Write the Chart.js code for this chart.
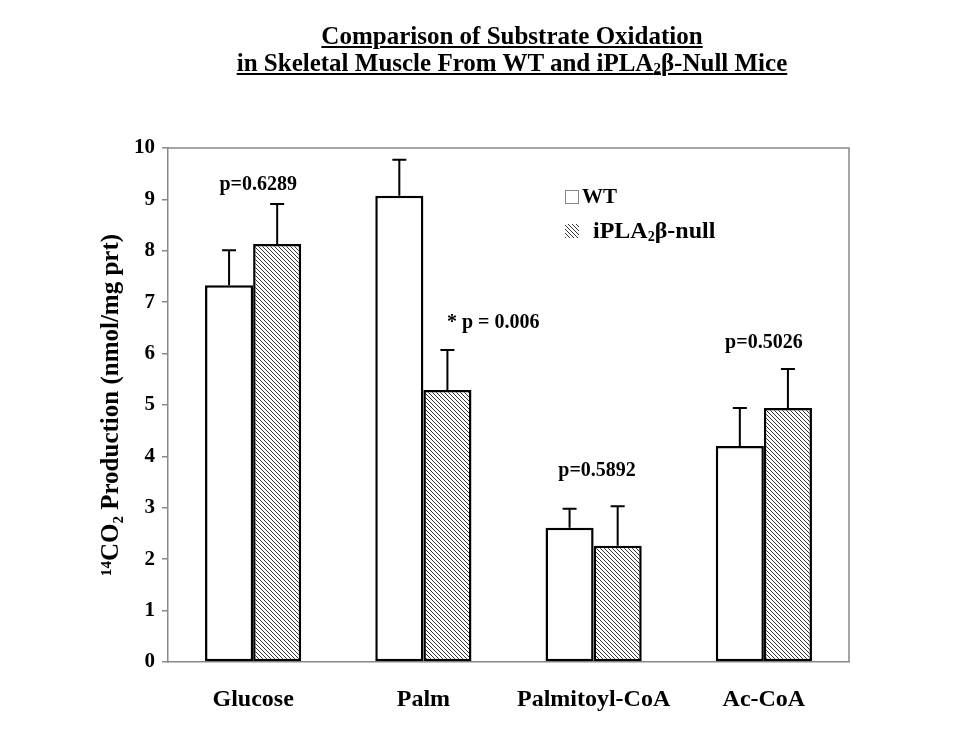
<!DOCTYPE html>
<html>
<head>
<meta charset="utf-8">
<script src="https://cdn.jsdelivr.net/npm/chart.js@4.4.1/dist/chart.umd.min.js"></script>
<style>
  html, body { margin: 0; padding: 0; background: #fff; }
  #wrap { position: relative; width: 959px; height: 742px; }
  #title {
    position: absolute; left: 162px; top: 22px; width: 700px;
    text-align: center; font: bold 25px "Liberation Serif", "Times New Roman", serif;
    line-height: 27px; text-decoration: underline; color: #000;
  }
  #title sub { font-size: 15px; vertical-align: -2px; line-height: 0; }
</style>
</head>
<body>
<div id="wrap">
  <canvas id="myChart" width="959" height="742"></canvas>
  <div id="title">Comparison of Substrate Oxidation<br>in Skeletal Muscle From WT and iPLA<sub>2</sub>β-Null Mice</div>
</div>
<script>
// data
var categories = ["Glucose", "Palm", "Palmitoyl-CoA", "Ac-CoA"];
var wtValues = [7.33, 9.07, 2.61, 4.20];
var wtErrors = [0.68, 0.70, 0.37, 0.74];
var nullValues = [8.13, 5.29, 2.26, 4.94];
var nullErrors = [0.78, 0.78, 0.77, 0.76];
var yTicks = [0, 1, 2, 3, 4, 5, 6, 7, 8, 9, 10];
// p-value labels: text, value on y axis, shift in category widths
var pLabels = ["p=0.6289", "* p = 0.006", "p=0.5892", "p=0.5026"];
var pLabelY = [9.28, 6.6, 3.72, 6.2];
var pLabelShift = [0.03, 0.41, 0.02, 0.0];

var FONT = '"Liberation Serif", "Times New Roman", serif';

// hatch pattern "\\\\"
function makeHatch() {
    var c = document.createElement("canvas");
    var s = 4;
    c.width = s; c.height = s;
    var g = c.getContext("2d");
    g.fillStyle = "#fff";
    g.fillRect(0, 0, s, s);
    g.strokeStyle = "#333";
    g.lineWidth = 1;
    g.beginPath();
    g.moveTo(-1, -1); g.lineTo(s + 1, s + 1);
    g.moveTo(-1, s - 1); g.lineTo(1, s + 1);
    g.moveTo(s - 1, -1); g.lineTo(s + 1, 1);
    g.stroke();
    return g.createPattern(c, "repeat");
}
var hatch = makeHatch();

// error bars, frame, p labels, legend
var extras = {
    id: "extras",
    afterDatasetsDraw: function(chart) {
        var ctx = chart.ctx;
        var y = chart.scales.y;
        var area = chart.chartArea;
        var errs = [wtErrors, nullErrors];
        ctx.save();
        ctx.strokeStyle = "#000";
        ctx.lineWidth = 2;
        chart.data.datasets.forEach(function(ds, di) {
            var meta = chart.getDatasetMeta(di);
            meta.data.forEach(function(bar, i) {
                var top = y.getPixelForValue(ds.data[i] + errs[di][i]);
                ctx.beginPath();
                ctx.moveTo(bar.x, bar.y);
                ctx.lineTo(bar.x, top);
                ctx.moveTo(bar.x - 7, top);
                ctx.lineTo(bar.x + 7, top);
                ctx.stroke();
            });
        });
        // frame
        ctx.strokeStyle = "#888";
        ctx.lineWidth = 1.5;
        ctx.beginPath();
        ctx.moveTo(area.left, area.top);
        ctx.lineTo(area.right, area.top);
        ctx.lineTo(area.right, area.bottom);
        ctx.stroke();

        // p labels
        var x = chart.scales.x;
        var catW = (area.right - area.left) / categories.length;
        ctx.fillStyle = "#000";
        ctx.font = "bold 20px " + FONT;
        ctx.textAlign = "center";
        ctx.textBaseline = "middle";
        pLabels.forEach(function(t, i) {
            ctx.fillText(t, x.getPixelForValue(i) + pLabelShift[i] * catW, y.getPixelForValue(pLabelY[i]));
        });

        // legend
        var lx = area.left + 397;
        var ly1 = area.top + 49;
        var ly2 = area.top + 83;
        ctx.fillStyle = "#fff";
        ctx.fillRect(lx, ly1 - 7, 14, 14);
        ctx.strokeStyle = "#888";
        ctx.lineWidth = 1;
        ctx.strokeRect(lx + 0.5, ly1 - 6.5, 13, 13);
        ctx.fillStyle = hatch;
        ctx.fillRect(lx, ly2 - 7, 14, 14);
        ctx.fillStyle = "#000";
        ctx.textAlign = "left";
        ctx.font = "bold 21px " + FONT;
        ctx.fillText("WT", lx + 17, ly1 + 1);
        var tx = lx + 28;
        ctx.font = "bold 24px " + FONT;
        ctx.fillText("iPLA", tx, ly2 + 1);
        tx += ctx.measureText("iPLA").width;
        ctx.font = "bold 14px " + FONT;
        ctx.fillText("2", tx, ly2 + 6);
        tx += ctx.measureText("2").width;
        ctx.font = "bold 24px " + FONT;
        ctx.fillText("β-null", tx, ly2 + 1);
        ctx.restore();
    }
};

var chart = new Chart(document.getElementById("myChart").getContext("2d"), {
    type: "bar",
    data: {
        labels: categories,
        datasets: [
            {
                label: "WT",
                data: wtValues,
                backgroundColor: "#fff",
                borderColor: "#000",
                borderWidth: 2.5,
                borderSkipped: false,
                categoryPercentage: 0.565,
                barPercentage: 1.0
            },
            {
                label: "iPLA2β-null",
                data: nullValues,
                backgroundColor: hatch,
                borderColor: "#000",
                borderWidth: 2.5,
                borderSkipped: false,
                categoryPercentage: 0.565,
                barPercentage: 1.0
            }
        ]
    },
    options: {
        responsive: false,
        animation: false,
        layout: { padding: { left: 0, right: 110, top: 148, bottom: 0 } },
        plugins: {
            legend: { display: false },
            tooltip: { enabled: false }
        },
        scales: {
            x: {
                grid: { display: false },
                border: { display: true, color: "#888", width: 1.5 },
                ticks: { color: "#000", padding: 15, font: { family: FONT, size: 24, weight: "bold" } },
                afterFit: function(s) { s.height = 80; }
            },
            y: {
                min: 0,
                max: 10,
                afterBuildTicks: function(s) { s.ticks = yTicks.map(function(v) { return { value: v }; }); },
                grid: { drawOnChartArea: false, drawTicks: true, tickLength: 6, color: "#888", lineWidth: 1.5 },
                border: { display: true, color: "#888", width: 1.5 },
                ticks: { color: "#000", padding: 7, font: { family: FONT, size: 21, weight: "bold" } },
                title: {
                    display: true,
                    text: "¹⁴CO₂ Production (nmol/mg prt)",
                    color: "#000",
                    padding: { top: 97, bottom: 0 },
                    font: { family: FONT, size: 25, weight: "bold" }
                },
                afterFit: function(s) { s.width = 168; }
            }
        }
    },
    plugins: [extras]
});
</script>
</body>
</html>
